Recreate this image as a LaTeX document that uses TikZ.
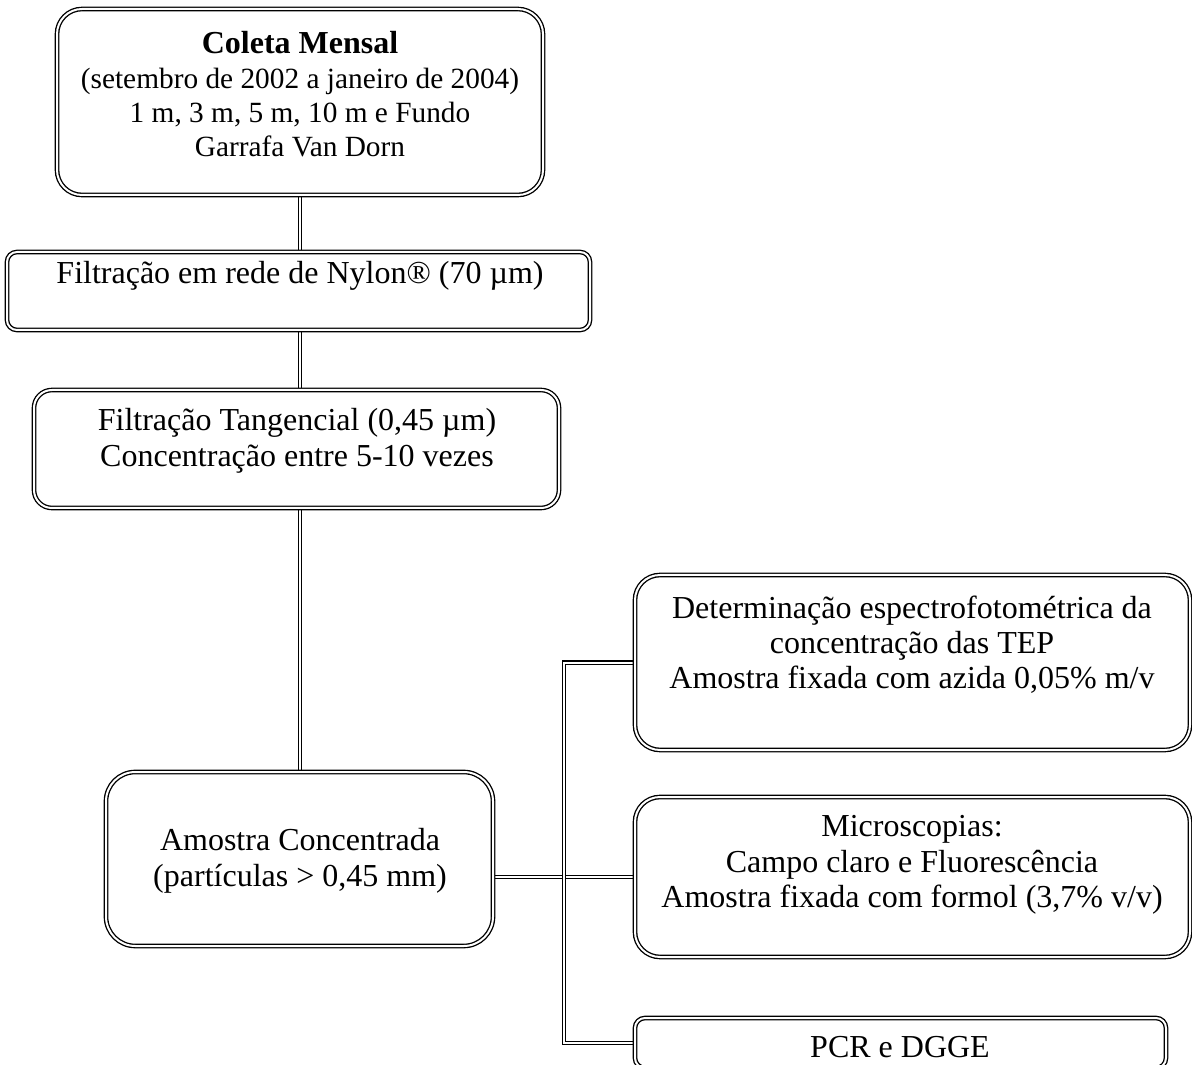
\documentclass[tikz,border=0pt]{standalone}
\usepackage{fontspec}
\setmainfont{Liberation Serif}
\usetikzlibrary{positioning, fit, backgrounds}

\begin{document}
\begin{tikzpicture}[x=0.375pt, y=-0.375pt,
    caixa/.style={draw, double, line width=0.5pt, double distance=0.75pt, inner sep=0pt},
    texto/.style={anchor=north, inner sep=0pt, align=center, font=\fontsize{12}{13.3}\selectfont},
    ligacao/.style={draw, double, line width=0.5pt, double distance=0.75pt}]
    \useasboundingbox (0,0) rectangle (1192,1065);

    \node[caixa, rounded corners=9.4pt, fit={(57,9) (543,195)}] (coleta) {};
    \node[caixa, rounded corners=3.75pt, fit={(7,252) (590,330)}] (rede) {};
    \node[caixa, rounded corners=6.75pt, fit={(34,390) (559,508)}] (tang) {};
    \node[caixa, rounded corners=11pt, fit={(106,772) (493,946)}] (amostra) {};
    \node[caixa, rounded corners=9.4pt, fit={(635,575) (1190,750)}] (deter) {};
    \node[caixa, rounded corners=9.4pt, fit={(635,797) (1190,957)}] (micro) {};
    \node[caixa, rounded corners=3.75pt, fit={(635,1018) (1166,1068)}] (pcr) {};

    \node[texto, font=\fontsize{11}{12.9}\selectfont] (coletatxt) at (300,31) {{\fontsize{12}{12.9}\selectfont\bfseries Coleta Mensal}\\(setembro de 2002 a janeiro de 2004)\\1 m, 3 m, 5 m, 10 m e Fundo\\Garrafa Van Dorn};
    \node[texto] (redetxt) at (300,261) {Filtração em rede de Nylon® (70 µm)};
    \node[texto] (tangtxt) at (297,408) {Filtração Tangencial (0,45 µm)\\Concentração entre 5-10 vezes};
    \node[texto] (amostratxt) at (300,828) {Amostra Concentrada\\(partículas > 0,45 mm)};
    \node[texto] (detertxt) at (912,595) {Determinação espectrofotométrica da\\concentração das TEP\\Amostra fixada com azida 0,05\% m/v};
    \node[texto] (microtxt) at (912,815) {Microscopias:\\Campo claro e Fluorescência\\Amostra fixada com formol (3,7\% v/v)};
    \node[texto] (pcrtxt) at (900,1036) {PCR e DGGE};

    \coordinate (ramo) at (564,660);
    \begin{scope}[on background layer]
        \draw[ligacao] (coleta.south) -- (coleta.south |- rede.north);
        \draw[ligacao] (rede.south -| coleta.south) -- (tang.north -| coleta.south);
        \draw[ligacao] (tang.south -| coleta.south) -- (amostra.north -| coleta.south);
        \draw[ligacao] (amostra.east |- micro.west) -- (micro.west);
        \draw[ligacao] (deter.west) -- (deter.west -| ramo) -- (ramo |- pcr.west) -- (pcr.west);
    \end{scope}
\end{tikzpicture}
\end{document}
